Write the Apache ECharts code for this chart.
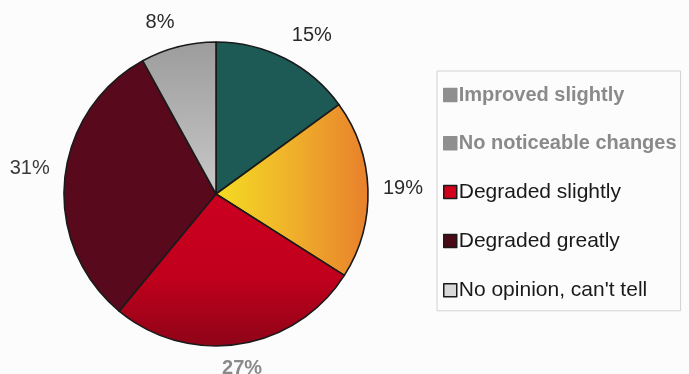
<!DOCTYPE html>
<html>
<head>
<meta charset="utf-8">
<script src="https://cdn.jsdelivr.net/npm/echarts@6/dist/echarts.min.js"></script>
<style>
  html, body { margin: 0; padding: 0; background: #fcfcfc; }
  #chart { width: 689px; height: 374px; }
</style>
</head>
<body>
<div id="chart"></div>
<script>
// Survey answers and their shares (percent)
const categories = [
  'Improved slightly',
  'No noticeable changes',
  'Degraded slightly',
  'Degraded greatly',
  "No opinion, can't tell"
];
const shares = [15, 19, 27, 31, 8];

// Slice fills
const sliceFills = [
  '#1d5a56',
  { type: 'linear', x: 0, y: 0, x2: 1, y2: 0,
    colorStops: [{ offset: 0, color: '#f4dc22' }, { offset: 0.45, color: '#f0b52a' }, { offset: 1, color: '#e8802c' }] },
  { type: 'linear', x: 0, y: 0, x2: 0, y2: 1,
    colorStops: [{ offset: 0, color: '#cc0020' }, { offset: 0.55, color: '#c0001c' }, { offset: 1, color: '#8e0418' }] },
  '#580a1c',
  { type: 'linear', x: 0, y: 0, x2: 0, y2: 1,
    colorStops: [{ offset: 0, color: '#9c9c9c' }, { offset: 1, color: '#c8c8c8' }] }
];

// Legend swatch and text styling per entry
const legendIconFills = ['#8f8f8f', '#8f8f8f', '#d0001c', '#4a0a16', '#d8d8d8'];
const legendIconBorders = ['#8f8f8f', '#8f8f8f', '#1a1a1a', '#1a1a1a', '#1a1a1a'];
const legendTextColors = ['#8a8a8a', '#8a8a8a', '#1a1a1a', '#1a1a1a', '#1a1a1a'];
const legendTextWeights = ['bold', 'bold', 'normal', 'normal', 'normal'];
const legendTextSizes = [20, 20, 21, 21, 21];

// Percent label colours
const labelColors = ['#2a2a2a', '#2a2a2a', '#8a8a8a', '#3a3a3a', '#2a2a2a'];

const center = [216, 194];
const labelFont = 'Liberation Sans, Arial, sans-serif';
const labelSize = 20;

// Measure label text so each label can sit with its near corner at the anchor point
const measureCtx = document.createElement('canvas').getContext('2d');
function textWidth(str, weight) {
  measureCtx.font = weight + ' ' + labelSize + 'px ' + labelFont;
  return measureCtx.measureText(str).width;
}

const total = shares.reduce((a, b) => a + b, 0);
let running = 0;
const labelPlacement = shares.map((v, i) => {
  const mid = (running + v / 2) / total * 2 * Math.PI; // clockwise from 12 o'clock
  running += v;
  const sx = Math.sin(mid), cy = Math.cos(mid);
  const w = Math.round(textWidth(v + '%', i === 2 ? 'bold' : 'normal'));
  const horiz = Math.abs(sx) < 0.2 ? 0 : (sx > 0 ? 1 : -1);
  const vert = Math.abs(cy) < 0.05 ? 0 : (cy > 0 ? 1 : -1); // 1 = above centre
  return {
    padding: [0, horiz < 0 ? w : 0, 0, horiz > 0 ? w : 0],
    vert
  };
});

const chart = echarts.init(document.getElementById('chart'), null, { renderer: 'canvas' });

chart.setOption({
  animation: false,
  backgroundColor: '#fcfcfc',
  legend: {
    orient: 'vertical',
    left: 437,
    top: 71,
    width: 233,
    height: 240,
    padding: [14, 4, 10, 6],
    itemWidth: 13,
    itemHeight: 13,
    itemGap: 28.2,
    borderColor: '#d2d2d2',
    borderWidth: 1,
    selectedMode: false,
    icon: 'rect',
    data: categories.map((name, i) => ({
      name,
      itemStyle: { color: legendIconFills[i], borderColor: legendIconBorders[i], borderWidth: 1.5 },
      textStyle: {
        color: legendTextColors[i],
        fontWeight: legendTextWeights[i],
        fontSize: legendTextSizes[i],
        fontFamily: labelFont
      }
    })),
    textStyle: { padding: [0, 0, 0, -3] }
  },
  series: [
    {
      name: 'shares',
      type: 'pie',
      center,
      radius: 152,
      startAngle: 90,
      clockwise: true,
      silent: true,
      label: { show: false },
      labelLine: { show: false },
      itemStyle: { borderColor: '#1a1a1a', borderWidth: 1.6 },
      data: categories.map((name, i) => ({
        name,
        value: shares[i],
        itemStyle: { color: sliceFills[i] }
      }))
    },
    {
      // transparent ring that carries the percent labels just outside the pie
      name: 'labels',
      type: 'pie',
      center,
      radius: [157, 171],
      startAngle: 90,
      clockwise: true,
      silent: true,
      legendHoverLink: false,
      itemStyle: { color: 'rgba(0,0,0,0)', borderWidth: 0 },
      labelLine: { show: false },
      data: categories.map((name, i) => ({
        name: name + ' ',
        value: shares[i],
        label: {
          color: labelColors[i],
          fontWeight: i === 2 ? 'bold' : 'normal',
          padding: labelPlacement[i].padding
        }
      })),
      label: {
        show: true,
        position: 'inside',
        lineHeight: 20,
        // an empty line on the pie side lifts or drops the text off the anchor point
        formatter: p => {
          const t = p.value + '%';
          const v = labelPlacement[p.dataIndex].vert;
          return v > 0 ? t + '\n ' : (v < 0 ? ' \n' + t : t);
        },
        fontSize: labelSize,
        fontFamily: labelFont
      }
    }
  ]
});
</script>
</body>
</html>
